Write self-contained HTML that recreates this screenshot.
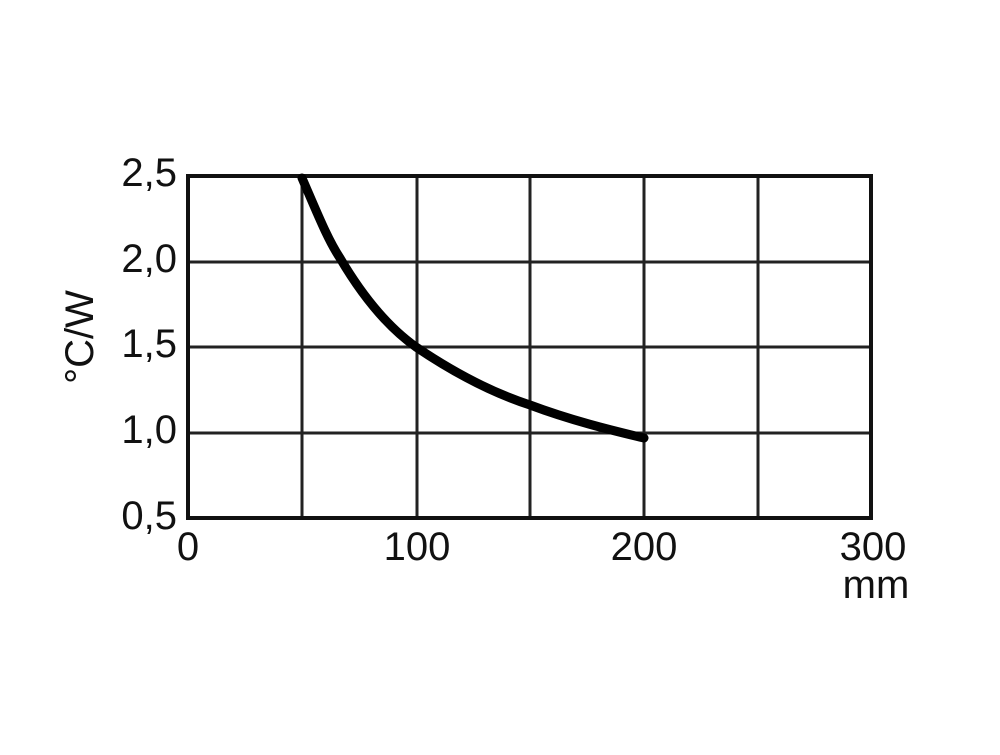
<!DOCTYPE html>
<html><head><style>body{margin:0;background:#fff}</style></head><body>
<svg width="1000" height="750" xmlns="http://www.w3.org/2000/svg" font-family="Liberation Sans, Arial, sans-serif" font-size="40" fill="#111">
<g stroke="#222" stroke-width="3">
<line x1="302" y1="176" x2="302" y2="518"/>
<line x1="417" y1="176" x2="417" y2="518"/>
<line x1="530" y1="176" x2="530" y2="518"/>
<line x1="644" y1="176" x2="644" y2="518"/>
<line x1="758" y1="176" x2="758" y2="518"/>
<line x1="188" y1="262" x2="871" y2="262"/>
<line x1="188" y1="347" x2="871" y2="347"/>
<line x1="188" y1="433" x2="871" y2="433"/>
</g>
<rect x="188" y="176" width="683" height="342" fill="none" stroke="#111" stroke-width="4"/>
<path d="M302,178 C318,215 328,240 340,258 C360,292 385,325 416,347 C450,370 490,392 530,405 C570,420 610,430 644,438" fill="none" stroke="#000" stroke-width="9" stroke-linecap="round"/>
<g text-anchor="end">
<text x="177" y="186">2,5</text>
<text x="177" y="272">2,0</text>
<text x="177" y="357">1,5</text>
<text x="177" y="443">1,0</text>
<text x="177" y="529">0,5</text>
</g>
<g text-anchor="middle">
<text x="188" y="560">0</text>
<text x="417" y="560">100</text>
<text x="644" y="560">200</text>
<text x="873" y="560">300</text>
<text x="876" y="598">mm</text>
<text transform="translate(93,337) rotate(-90)">°C/W</text>
</g>
</svg>
</body></html>
